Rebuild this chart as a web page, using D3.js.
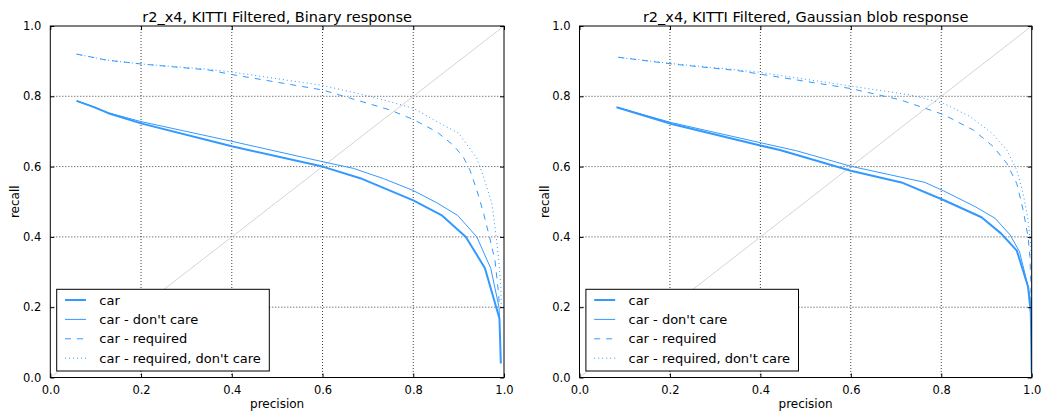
<!DOCTYPE html>
<html>
<head>
<meta charset="utf-8">
<script src="https://cdn.jsdelivr.net/npm/d3@7"></script>
<style>
  html, body { margin: 0; padding: 0; background: #fff; }
  svg { display: block; font-family: "DejaVu Sans", sans-serif; }
</style>
</head>
<body>
<script>
// Precision / recall curves, [precision, recall] pairs
const panelTitles = [
  "r2_x4, KITTI Filtered, Binary response",
  "r2_x4, KITTI Filtered, Gaussian blob response"
];
const seriesNames = ["car", "car - don't care", "car - required", "car - required, don't care"];
const tickValues = [0.0, 0.2, 0.4, 0.6, 0.8, 1.0];

// Binary response
const binaryCar = [[0.058,0.787],[0.095,0.770],[0.128,0.752],[0.2,0.723],[0.4,0.658],[0.6,0.600],[0.683,0.567],[0.8,0.504],[0.862,0.462],[0.916,0.400],[0.958,0.311],[0.990,0.168],[0.993,0.040]];
const binaryDontCare = [[0.058,0.787],[0.095,0.770],[0.128,0.753],[0.2,0.728],[0.4,0.672],[0.6,0.614],[0.668,0.595],[0.734,0.566],[0.8,0.532],[0.852,0.497],[0.898,0.461],[0.940,0.400],[0.971,0.310],[0.989,0.200],[0.990,0.172]];
const binaryRequired = [[0.058,0.920],[0.124,0.903],[0.2,0.892],[0.348,0.875],[0.4,0.862],[0.6,0.818],[0.749,0.761],[0.8,0.734],[0.852,0.699],[0.888,0.661],[0.910,0.628],[0.925,0.590],[0.940,0.533],[0.955,0.467],[0.968,0.400],[0.980,0.334],[0.988,0.240],[0.990,0.200]];
const binaryRequiredDontCare = [[0.058,0.920],[0.124,0.903],[0.2,0.892],[0.348,0.877],[0.4,0.869],[0.6,0.831],[0.705,0.800],[0.8,0.766],[0.859,0.723],[0.900,0.695],[0.940,0.624],[0.955,0.571],[0.973,0.496],[0.981,0.420],[0.988,0.340],[0.993,0.260],[0.994,0.197]];

// Gaussian blob response
const blobCar = [[0.082,0.769],[0.204,0.721],[0.4,0.660],[0.443,0.647],[0.6,0.588],[0.712,0.555],[0.805,0.505],[0.889,0.456],[0.932,0.410],[0.967,0.361],[0.992,0.258],[0.998,0.183],[1.0,0.012]];
const blobDontCare = [[0.082,0.769],[0.204,0.725],[0.4,0.668],[0.48,0.645],[0.6,0.601],[0.764,0.555],[0.805,0.531],[0.875,0.486],[0.919,0.453],[0.952,0.406],[0.973,0.358],[0.985,0.296],[0.998,0.220],[0.999,0.150]];
const blobRequired = [[0.086,0.911],[0.204,0.892],[0.351,0.873],[0.4,0.863],[0.6,0.822],[0.709,0.790],[0.805,0.748],[0.871,0.704],[0.915,0.657],[0.945,0.609],[0.967,0.552],[0.981,0.477],[0.992,0.400],[0.996,0.344],[0.998,0.276],[0.999,0.190]];
const blobRequiredDontCare = [[0.086,0.911],[0.204,0.893],[0.351,0.875],[0.4,0.868],[0.6,0.829],[0.731,0.804],[0.805,0.780],[0.864,0.742],[0.912,0.695],[0.945,0.647],[0.967,0.590],[0.981,0.524],[0.992,0.448],[0.998,0.372],[1.0,0.300],[1.0,0.200]];

const seriesStyles = [
  { color: "#3399ff", width: 2, dash: null },
  { color: "#3399ff", width: 1, dash: null },
  { color: "#3399ff", width: 1, dash: "6,6" },
  { color: "#3399ff", width: 1, dash: "1,3" }
];

const W = 1045, H = 412;
const svg = d3.select("body").append("svg").attr("width", W).attr("height", H);

const panels = [
  { title: panelTitles[0], left: 50.3, right: 504, ylabelX: 19,
    data: [binaryCar, binaryDontCare, binaryRequired, binaryRequiredDontCare] },
  { title: panelTitles[1], left: 579.5, right: 1031.7, ylabelX: 548.5,
    data: [blobCar, blobDontCare, blobRequired, blobRequiredDontCare] }
];
const plotTop = 26, plotBottom = 377.5;

panels.forEach((p, i) => {
  const x = d3.scaleLinear().domain([0, 1]).range([p.left, p.right]);
  const y = d3.scaleLinear().domain([0, 1]).range([plotBottom, plotTop]);
  const g = svg.append("g");

  const clipId = "clip" + i;
  svg.append("clipPath").attr("id", clipId).append("rect")
    .attr("x", p.left).attr("y", plotTop).attr("width", p.right - p.left).attr("height", plotBottom - plotTop);

  // grid
  const gridG = g.append("g");
  tickValues.slice(1, -1).forEach(t => {
    gridG.append("line").attr("x1", x(t)).attr("x2", x(t)).attr("y1", plotTop).attr("y2", plotBottom)
      .attr("stroke", "#000").attr("stroke-width", 1).attr("stroke-dasharray", "1,2").attr("opacity", 0.75);
    gridG.append("line").attr("y1", y(t)).attr("y2", y(t)).attr("x1", p.left).attr("x2", p.right)
      .attr("stroke", "#000").attr("stroke-width", 1).attr("stroke-dasharray", "1,2").attr("opacity", 0.75);
  });

  // diagonal reference
  g.append("line").attr("x1", x(0)).attr("y1", y(0)).attr("x2", x(1)).attr("y2", y(1))
    .attr("stroke", "#d4d4d4").attr("stroke-width", 1);

  // curves
  const line = d3.line().x(d => x(d[0])).y(d => y(d[1]));
  const curveG = g.append("g").attr("clip-path", `url(#${clipId})`);
  p.data.forEach((series, k) => {
    const s = seriesStyles[k];
    curveG.append("path").datum(series).attr("d", line)
      .attr("fill", "none").attr("stroke", s.color).attr("stroke-width", s.width)
      .attr("stroke-dasharray", s.dash).attr("stroke-linejoin", "round");
  });

  // axes with inward ticks on all sides
  const fmt = d3.format(".1f");
  const axB = g.append("g").attr("transform", `translate(0,${plotBottom})`)
    .call(d3.axisBottom(x).tickValues(tickValues).tickFormat(fmt).tickSizeInner(-4).tickSizeOuter(0).tickPadding(8));
  const axT = g.append("g").attr("transform", `translate(0,${plotTop})`)
    .call(d3.axisTop(x).tickValues(tickValues).tickFormat("").tickSizeInner(-4).tickSizeOuter(0));
  const axL = g.append("g").attr("transform", `translate(${p.left},0)`)
    .call(d3.axisLeft(y).tickValues(tickValues).tickFormat(fmt).tickSizeInner(-4).tickSizeOuter(0).tickPadding(9));
  const axR = g.append("g").attr("transform", `translate(${p.right},0)`)
    .call(d3.axisRight(y).tickValues(tickValues).tickFormat("").tickSizeInner(-4).tickSizeOuter(0));
  [axB, axT, axL, axR].forEach(a => {
    a.select(".domain").remove();
    a.selectAll("text").attr("font-family", "DejaVu Sans").attr("font-size", 11.5).attr("fill", "#000");
    a.selectAll("line").attr("stroke", "#000");
  });

  // frame
  g.append("rect").attr("x", p.left).attr("y", plotTop).attr("width", p.right - p.left).attr("height", plotBottom - plotTop)
    .attr("fill", "none").attr("stroke", "#000").attr("stroke-width", 1);

  // title and axis labels
  g.append("text").attr("x", (p.left + p.right) / 2).attr("y", 21.5).attr("text-anchor", "middle")
    .attr("font-size", 14.5).text(p.title);
  g.append("text").attr("x", (p.left + p.right) / 2).attr("y", 407.5).attr("text-anchor", "middle")
    .attr("font-size", 12).text("precision");
  g.append("text").attr("transform", `translate(${p.ylabelX},${(plotTop + plotBottom) / 2}) rotate(-90)`)
    .attr("text-anchor", "middle").attr("font-size", 12).text("recall");

  // legend
  const lx = p.left + 6.4, ly = 289.3, lw = 212.6, lh = 81.7;
  const lg = g.append("g");
  lg.append("rect").attr("x", lx).attr("y", ly).attr("width", lw).attr("height", lh)
    .attr("fill", "#fff").attr("stroke", "#000").attr("stroke-width", 1);
  seriesNames.forEach((name, k) => {
    const s = seriesStyles[k];
    const cy = ly + 10.7 + k * 19.4;
    lg.append("line").attr("x1", lx + 8.3).attr("x2", lx + 29.3).attr("y1", cy).attr("y2", cy)
      .attr("stroke", s.color).attr("stroke-width", s.width).attr("stroke-dasharray", s.dash);
    lg.append("text").attr("x", lx + 42.6).attr("y", cy).attr("dy", "0.36em")
      .attr("font-size", 13).text(name);
  });
});
</script>
</body>
</html>
